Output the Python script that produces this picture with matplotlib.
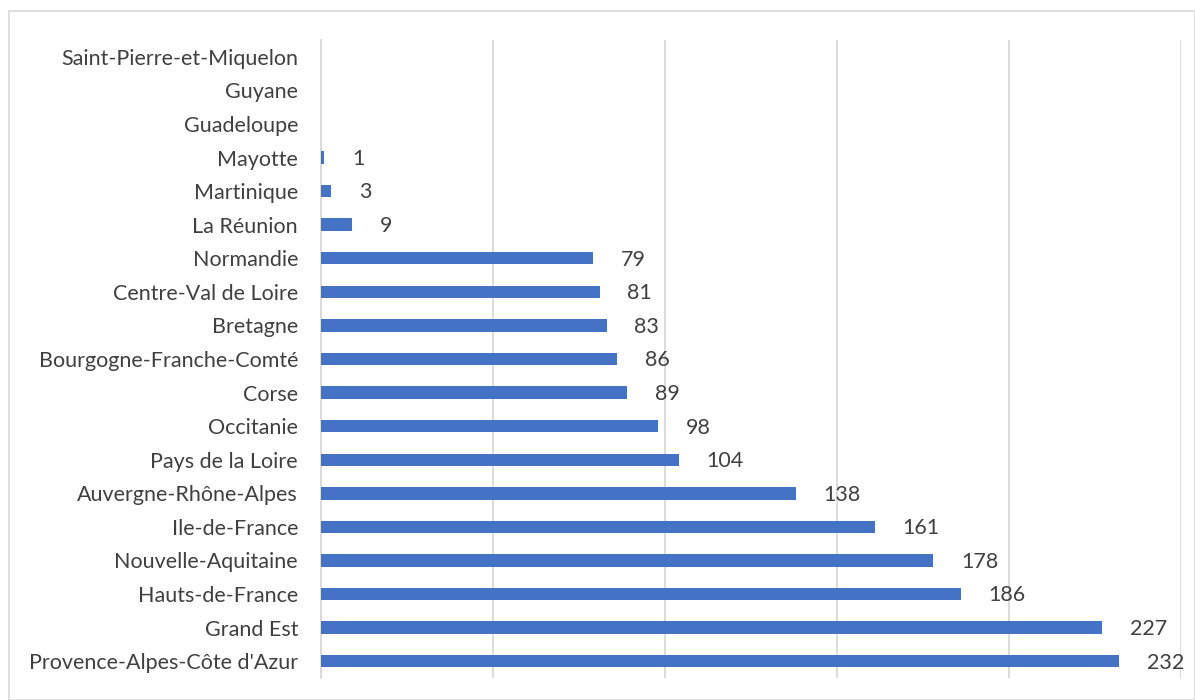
import matplotlib.pyplot as plt
from matplotlib.patches import Rectangle

# regions, listed bottom to top
regions = [
    "Provence-Alpes-Côte d'Azur", "Grand Est", "Hauts-de-France",
    "Nouvelle-Aquitaine", "Ile-de-France", "Auvergne-Rhône-Alpes",
    "Pays de la Loire", "Occitanie", "Corse", "Bourgogne-Franche-Comté",
    "Bretagne", "Centre-Val de Loire", "Normandie", "La Réunion",
    "Martinique", "Mayotte", "Guadeloupe", "Guyane", "Saint-Pierre-et-Miquelon",
]
counts = [232, 227, 186, 178, 161, 138, 104, 98, 89, 86, 83, 81, 79, 9, 3, 1, None, None, None]

BAR = "#4472C4"
TXT = "#404040"
GRID = "#D9D9D9"
plt.rcParams['font.family'] = ['Lato', 'DejaVu Sans']

fig = plt.figure(figsize=(11.95, 7.0), dpi=100)
fig.patches.append(Rectangle((9 / 1195, 0), 1 - 9 / 1195, 1 - 11 / 700,
                             transform=fig.transFigure, fill=False,
                             edgecolor=GRID, linewidth=1.2))
ax = fig.add_axes([321 / 1195, 1 - 678 / 700, (1181 - 321) / 1195, (678 - 40) / 700])

ypos = list(range(len(regions)))
vals = [v if v is not None else 0 for v in counts]
ax.barh(ypos, vals, height=0.37, color=BAR, zorder=3)

for y, v in zip(ypos, counts):
    if v is None:
        continue
    ax.annotate(str(v), (v, y), xytext=(20, -1), textcoords="offset points",
                va="center", ha="left", fontsize=15.5, color=TXT)

ax.set_xlim(0, 250)
ax.set_ylim(-0.5, len(regions) - 0.5)
ax.set_xticks([0, 50, 100, 150, 200, 250])
ax.set_xticklabels([])
ax.set_yticks(ypos)
ax.set_yticklabels(regions, fontsize=15.5, color=TXT)
ax.tick_params(length=0, pad=16.5)
ax.grid(axis="x", color=GRID, linewidth=1.3, zorder=0)
for s in ["top", "right", "bottom"]:
    ax.spines[s].set_visible(False)
ax.spines["left"].set_color(GRID)
ax.spines["left"].set_linewidth(1.3)

fig.savefig("out.png", dpi=100)
